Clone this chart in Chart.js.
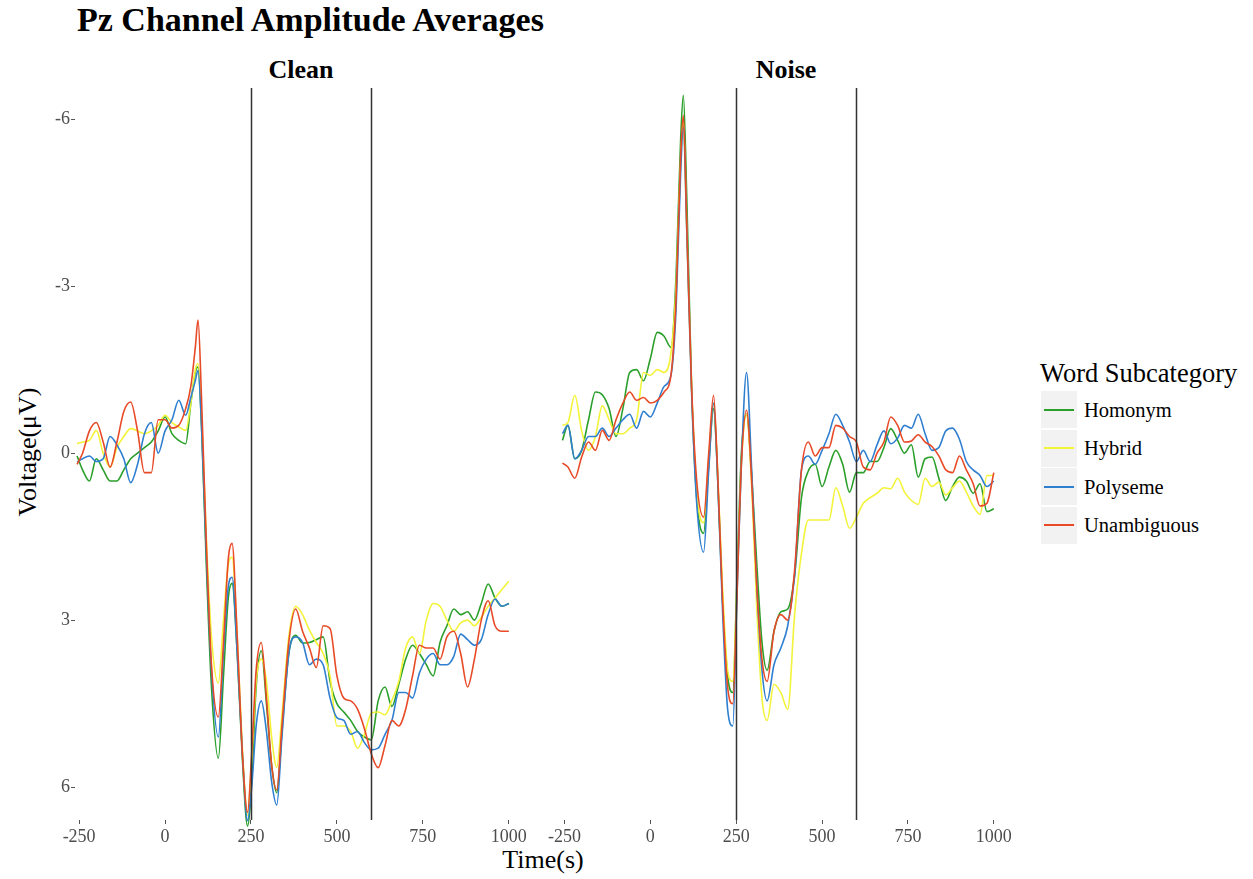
<!DOCTYPE html>
<html><head><meta charset="utf-8">
<script src="https://cdn.jsdelivr.net/npm/chart.js@4.4.1/dist/chart.umd.min.js"></script>
<style>
html,body{margin:0;padding:0;background:#fff;}
body{width:1253px;height:879px;position:relative;overflow:hidden;font-family:"Liberation Serif","DejaVu Serif",serif;color:#000;}
.t{position:absolute;white-space:nowrap;line-height:1;}
canvas{position:absolute;}
.key{position:absolute;width:36px;height:37px;background:#f2f2f2;}
.keyline{position:absolute;left:3px;width:30px;height:2px;top:17.5px;}
</style></head><body>

<script>
// ---------- data ----------
const timeMs = [-256,-240,-220,-200,-180,-160,-140,-120,-100,-80,-60,-40,-20,0,20,40,60,
  75,88,96,106,120,135,155,170,184,195,210,225,240,252,265,280,295,310,325,
  340,360,380,400,420,440,460,480,500,520,540,560,580,600,620,640,660,680,700,720,740,760,780,800,820,840,860,880,900,920,940,960,980,1000];

const seriesNames = ['Homonym','Hybrid','Polyseme','Unambiguous'];
const panelNames = ['Clean','Noise'];

const cleanHomonym = [0.05,0.3,0.5,0.1,0.3,0.5,0.5,0.3,0.1,0.0,-0.1,-0.2,-0.4,-0.65,-0.35,-0.23,-0.17,
  -0.9,-1.45,-1.55,-0.5,2.0,4.2,5.48,4.0,2.6,2.34,3.6,5.5,6.7,5.9,4.2,3.55,4.5,5.6,6.1,
  5.0,3.6,3.27,3.41,3.4,3.35,3.3,4.1,4.5,4.65,4.8,5.0,5.1,5.15,4.45,4.2,4.55,4.15,3.7,3.45,3.6,3.8,4.0,3.4,3.1,2.8,2.9,2.85,3.0,2.7,2.35,2.6,2.75,2.7];
const cleanHybrid = [-0.17,-0.2,-0.23,-0.41,0.0,0.25,-0.1,-0.3,-0.44,-0.4,-0.35,-0.4,-0.5,-0.68,-0.55,-0.47,-0.41,
  -0.9,-1.5,-1.61,-0.7,1.5,3.3,4.13,3.0,2.0,1.87,3.3,5.3,6.5,5.5,4.1,3.7,4.1,5.1,5.64,
  4.7,3.3,2.75,2.9,3.18,3.4,3.6,4.0,4.9,4.9,5.0,5.3,5.05,4.67,4.65,4.7,4.44,4.1,3.5,3.3,3.6,3.0,2.7,2.75,3.0,3.2,3.05,3.0,3.1,2.95,2.75,2.6,2.45,2.3];
const cleanPolyseme = [0.16,0.1,0.05,0.15,0.1,-0.3,-0.15,0.1,0.53,0.2,-0.35,-0.55,0.0,-0.4,-0.6,-0.95,-0.68,
  -1.0,-1.3,-1.49,-0.5,1.8,3.9,5.1,3.6,2.4,2.23,3.6,5.4,6.6,6.0,4.9,4.45,5.0,5.9,6.32,
  5.1,3.6,3.3,3.4,3.8,3.7,3.8,4.4,4.75,4.8,5.05,5.0,5.2,5.33,5.3,5.05,4.8,4.3,4.3,4.4,3.95,3.7,3.6,3.8,3.8,3.65,3.25,3.35,3.45,3.35,2.9,2.62,2.75,2.7];
const cleanUnambiguous = [0.2,0.0,-0.4,-0.55,-0.2,0.25,-0.2,-0.75,-0.92,-0.4,0.35,0.35,-0.6,-0.6,-0.45,-0.5,-0.8,
  -1.2,-1.9,-2.39,-1.0,1.6,3.8,4.74,3.4,1.9,1.62,3.3,5.4,6.45,5.4,3.9,3.4,4.4,5.6,6.05,
  4.9,3.4,2.8,3.2,3.5,3.85,3.1,3.15,4.0,4.4,4.45,4.6,4.95,5.4,5.65,5.25,4.8,4.9,4.6,4.0,3.45,3.5,3.5,3.7,3.3,3.2,3.6,4.2,3.7,3.0,2.65,3.1,3.2,3.2];

const noiseHomonym = [-0.23,-0.5,0.1,-0.05,-0.6,-1.1,-1.05,-0.8,-0.3,-0.8,-1.45,-1.5,-1.3,-1.7,-2.17,-2.1,-1.9,
  -3.2,-5.6,-6.43,-4.6,-1.2,0.8,1.44,0.2,-0.8,0.3,2.6,4.0,4.3,2.3,0.0,-0.7,0.4,2.0,3.4,
  3.9,3.2,2.85,2.8,2.2,0.8,0.32,0.2,0.6,0.25,-0.05,0.2,0.7,0.35,0.35,0.15,0.15,-0.1,-0.44,-0.23,0.0,-0.15,0.43,0.1,0.07,0.45,0.85,0.6,0.43,0.5,0.72,0.55,1.05,1.0];
const noiseHybrid = [-0.5,-0.55,-1.04,-0.4,-0.05,-0.3,-0.85,-0.6,-0.35,-0.35,-0.45,-0.6,-1.45,-1.4,-1.5,-1.45,-1.8,
  -3.0,-5.2,-5.96,-4.0,-1.2,0.7,1.25,0.1,-0.9,0.2,2.4,3.9,4.1,2.4,0.2,-0.7,0.6,2.8,4.4,
  4.8,4.15,4.3,4.6,2.9,1.8,1.2,1.2,1.2,1.2,0.62,0.95,1.35,1.15,0.9,0.8,0.72,0.62,0.64,0.45,0.7,0.85,0.92,0.45,0.6,0.52,0.75,0.62,0.5,0.7,0.95,1.1,0.4,0.4];
const noisePolyseme = [-0.35,-0.5,0.1,-0.05,-0.3,-0.3,-0.45,-0.3,-0.45,-0.6,-0.7,-0.45,-0.75,-0.65,-0.9,-1.2,-1.4,
  -2.6,-5.0,-5.86,-4.0,-1.1,0.9,1.78,0.3,-0.9,0.3,2.8,4.6,4.9,2.6,0.2,-1.45,0.3,2.4,3.9,
  4.45,3.8,3.5,3.1,2.2,0.3,0.05,0.2,-0.05,-0.35,-0.7,-0.5,-0.2,0.15,-0.05,0.15,-0.15,-0.4,-0.17,-0.27,-0.5,-0.45,-0.7,-0.35,-0.05,-0.1,-0.4,-0.45,-0.25,0.15,0.3,0.4,0.6,0.5];
const noiseUnambiguous = [0.18,0.25,0.45,0.07,-0.2,-0.05,-0.41,-0.23,-0.6,-0.9,-1.1,-0.95,-1.0,-0.9,-0.95,-1.1,-1.4,
  -2.8,-5.3,-6.07,-4.1,-1.2,0.5,1.15,0.0,-1.04,0.2,2.6,4.2,4.5,2.6,0.2,-0.77,0.5,2.4,3.7,
  4.1,3.2,2.9,3.0,2.1,0.3,-0.2,0.05,-0.1,-0.1,-0.5,-0.45,-0.3,-0.2,0.25,0.3,0.0,-0.2,-0.65,-0.5,-0.2,-0.22,-0.33,-0.2,-0.12,0.05,0.3,0.35,0.05,0.3,0.55,0.95,0.9,0.35];

const xTickValues = [-250,0,250,500,750,1000];
const yTickValues = [-6,-3,0,3,6];
const markerTimes = [250,600];

// ---------- styles ----------
const seriesColors = ['#2a9f2a','#f3f33a','#2f7fd0','#e84a27'];
const FONT = '"Liberation Serif", "DejaVu Serif", serif';
</script>

<div class="t" style="left:77px;top:3px;font-size:34px;font-weight:bold;">Pz Channel Amplitude Averages</div>
<div class="t" style="left:301px;top:57px;font-size:26px;font-weight:bold;transform:translateX(-50%);">Clean</div>
<div class="t" style="left:786px;top:57px;font-size:26px;font-weight:bold;transform:translateX(-50%);">Noise</div>
<div class="t" style="left:28px;top:452px;font-size:26px;transform:translate(-50%,-50%) rotate(-90deg);">Voltage(μV)</div>
<div class="t" style="left:543px;top:847px;font-size:26px;transform:translateX(-50%);">Time(s)</div>

<canvas id="cClean" width="532" height="879" style="left:0;top:0;width:532px;height:879px;"></canvas>
<canvas id="cNoise" width="471" height="879" style="left:546px;top:0;width:471px;height:879px;"></canvas>

<div class="t" style="left:1040px;top:360px;font-size:26.5px;">Word Subcategory</div>
<div id="legend"></div>

<script>
const xMin = -262, xMax = 1053;
const yMin = -6.56, yMax = 6.59;

const markerPlugin = {
  id: 'markers',
  afterDatasetsDraw(chart) {
    const {ctx, chartArea, scales} = chart;
    ctx.save();
    ctx.strokeStyle = '#333333';
    ctx.lineWidth = 1.5;
    markerTimes.forEach(t => {
      const px = Math.round(scales.x.getPixelForValue(t)) + 0.5;
      ctx.beginPath();
      ctx.moveTo(px, chartArea.top);
      ctx.lineTo(px, chartArea.bottom);
      ctx.stroke();
    });
    ctx.restore();
  }
};

function buildPanel(id, seriesList, showY) {
  return new Chart(document.getElementById(id), {
    type: 'line',
    data: {
      datasets: seriesList.map((vals, i) => ({
        label: seriesNames[i],
        data: timeMs.map((t, j) => ({x: t, y: vals[j]})),
        borderColor: seriesColors[i],
        borderWidth: 1.6,
        pointRadius: 0,
        fill: false,
        cubicInterpolationMode: 'monotone',
        order: seriesList.length - i,
        clip: false
      }))
    },
    options: {
      responsive: false,
      animation: false,
      events: [],
      layout: {padding: {top: 88, bottom: 19, left: 0, right: 5}},
      plugins: {legend: {display: false}, tooltip: {enabled: false}},
      scales: {
        x: {
          type: 'linear', min: xMin, max: xMax,
          afterBuildTicks: s => { s.ticks = xTickValues.map(v => ({value: v})); },
          afterFit: s => { s.height = 40; },
          ticks: {font: {family: FONT, size: 18}, color: '#4d4d4d', padding: 2, maxRotation: 0, autoSkip: false, callback: v => String(v)},
          grid: {drawOnChartArea: false, drawTicks: true, tickLength: 4, color: '#555'},
          border: {display: false}
        },
        y: {
          display: showY,
          reverse: true, min: yMin, max: yMax,
          afterBuildTicks: s => { s.ticks = yTickValues.map(v => ({value: v})); },
          afterFit: s => { s.width = showY ? 75 : 0; },
          ticks: {font: {family: FONT, size: 18}, color: '#4d4d4d', padding: 1, callback: v => String(v)},
          grid: {drawOnChartArea: false, drawTicks: true, tickLength: 4, color: '#555'},
          border: {display: false}
        }
      }
    },
    plugins: [markerPlugin]
  });
}

buildPanel('cClean', [cleanHomonym, cleanHybrid, cleanPolyseme, cleanUnambiguous], true);
buildPanel('cNoise', [noiseHomonym, noiseHybrid, noisePolyseme, noiseUnambiguous], false);

// legend
const leg = document.getElementById('legend');
seriesNames.forEach((name, i) => {
  const top = 391 + i * 38.5;
  const box = document.createElement('div');
  box.className = 'key';
  box.style.left = '1041px';
  box.style.top = top + 'px';
  const ln = document.createElement('div');
  ln.className = 'keyline';
  ln.style.background = seriesColors[i];
  box.appendChild(ln);
  leg.appendChild(box);
  const lab = document.createElement('div');
  lab.className = 't';
  lab.style.left = '1084px';
  lab.style.top = (top + 18.5) + 'px';
  lab.style.fontSize = '20.5px';
  lab.style.transform = 'translateY(-50%)';
  lab.textContent = name;
  leg.appendChild(lab);
});
</script>
</body></html>
